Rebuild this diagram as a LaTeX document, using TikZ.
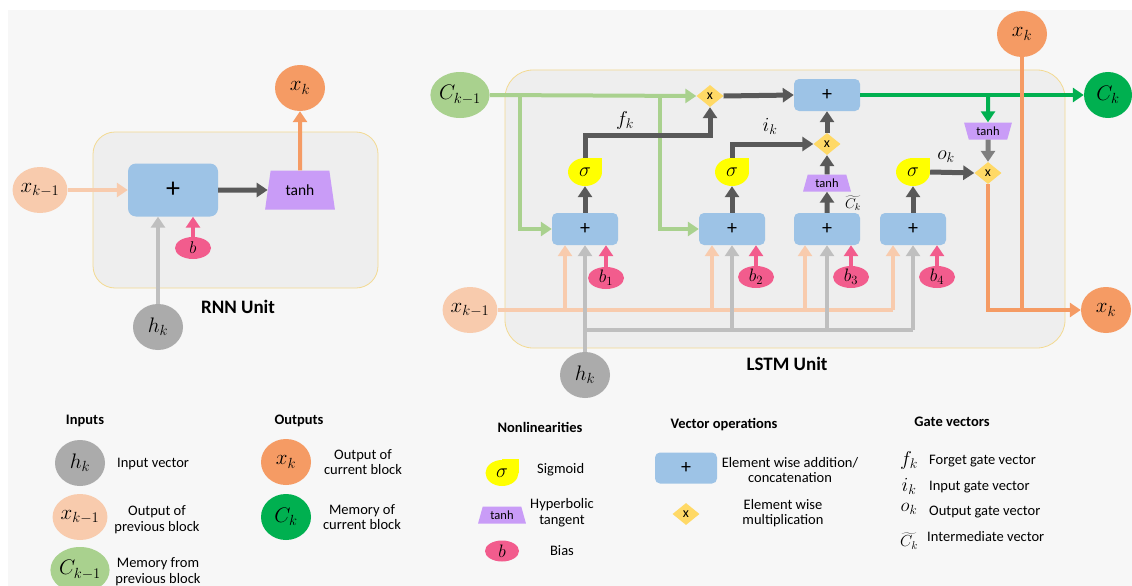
\RequirePackage{fix-cm}
\documentclass[tikz,border=0pt]{standalone}
\usepackage{fontspec}
\setmainfont{Carlito}
\usetikzlibrary{arrows.meta,shapes.geometric,calc}

\definecolor{pagebg}{HTML}{F7F7F7}
\definecolor{unitfill}{HTML}{EEEEEE}
\definecolor{unitedge}{HTML}{F3DA92}
\definecolor{boxblue}{HTML}{9DC3E6}
\definecolor{tanhpur}{HTML}{C99CF7}
\definecolor{sigyel}{HTML}{FFFF00}
\definecolor{multyel}{HTML}{FFD966}
\definecolor{biaspink}{HTML}{F25C8D}
\definecolor{peachc}{HTML}{F8CBAD}
\definecolor{grayln}{HTML}{BFBFBF}
\definecolor{graycirc}{HTML}{ABABAB}
\definecolor{orangec}{HTML}{F59B64}
\definecolor{greenlt}{HTML}{A9D18E}
\definecolor{greendk}{HTML}{00B050}
\definecolor{darkln}{HTML}{595959}
\definecolor{midln}{HTML}{7F7F7F}

\newcommand\sigmanode[3][sigbody]{%
  \fill[sigyel] (#3) rectangle ++(17,-14);
  \node[#1] (#2) at (#3) {$\sigma$};}

\begin{document}
\begin{tikzpicture}[x=1pt,y=-1pt,
  circ/.style={ellipse, minimum width=50pt, minimum height=46pt, inner sep=0pt,
    font=\fontsize{21}{22}\selectfont},
  addbox/.style={rectangle, rounded corners=5pt, fill=boxblue, minimum width=66pt,
    minimum height=32pt, inner sep=0pt, font=\fontsize{20}{20}\selectfont},
  mult/.style={diamond, fill=multyel, minimum width=27pt, minimum height=22pt,
    inner sep=0pt, font=\fontsize{14}{14}\selectfont},
  tanhbox/.style={trapezium, trapezium stretches=true, trapezium left angle=72,
    trapezium right angle=72, fill=tanhpur, minimum width=48pt, minimum height=17pt,
    inner sep=0pt, font=\fontsize{12.5}{12.5}\selectfont},
  biasnd/.style={ellipse, fill=biaspink, minimum width=36pt, minimum height=22pt,
    inner sep=0pt, font=\fontsize{18}{18}\selectfont},
  sigbody/.style={ellipse, fill=sigyel, minimum width=34pt, minimum height=28pt,
    inner sep=0pt, font=\fontsize{20}{20}\selectfont},
  unitbox/.style={rectangle, draw=unitedge, line width=0.8pt, fill=unitfill},
  conn/.style={line width=4pt},
  arr/.style={conn, -{Triangle[length=11pt,width=14pt]}},
  heavy/.style={line width=5pt},
  unitlbl/.style={font=\fontsize{19}{19}\selectfont\bfseries},
  head/.style={font=\fontsize{14.5}{15}\selectfont\bfseries},
  lgtext/.style={font=\fontsize{14.5}{15.7}\selectfont, align=center, inner sep=0pt},
  mlbl/.style={font=\fontsize{20}{20}\selectfont, inner sep=0pt}
]
\useasboundingbox (0,0) rectangle (1132,586);
\fill[white] (0,0) rectangle (1132,586);
\fill[pagebg] (8,10) rectangle (1132,586);

% ---------------- RNN unit ----------------
\node[unitbox, rounded corners=22pt, minimum width=285pt, minimum height=156pt]
  (rnnunit) at (235.5,210) {};
\node[unitlbl] (rnnlbl) at (238,307) {RNN Unit};

\node[circ, fill=peachc] (rxin) at (40,190) {$x_{k-1}$};
\node[addbox, rounded corners=8pt, minimum width=90pt, minimum height=53pt,
  font=\fontsize{28}{28}\selectfont] (rplus) at (173,190) {+};
\node[tanhbox, trapezium left angle=76, trapezium right angle=76,
  minimum width=70pt, minimum height=39pt, font=\fontsize{15.5}{15.5}\selectfont]
  (rtanh) at (300,190) {tanh};
\node[circ, fill=orangec] (rxk) at (300,88) {$x_k$};
\node[biasnd, font=\fontsize{17}{17}\selectfont] (rb) at (193,248) {$b$};
\node[circ, fill=graycirc] (rhk) at (158,327) {$h_k$};

\draw[arr, peachc] (rxin) -- (rplus);
\draw[arr, heavy, darkln] (rplus) -- (rtanh);
\draw[arr, orangec] (rtanh) -- (rxk);
\draw[arr, grayln] (rhk.north) -- (rhk.north |- rplus.south);
\draw[arr, biaspink] (rb.north) -- (rb.north |- rplus.south);

% ---------------- LSTM unit ----------------
\node[unitbox, rounded corners=28pt, minimum width=560pt, minimum height=278pt]
  (lstmunit) at (785,209) {};
\node[unitlbl] (lstmlbl) at (787,364) {LSTM Unit};

% inputs and outputs
\node[circ, fill=greenlt, minimum width=48pt] (cin) at (460,95) {$C_{k-1}$};
\node[circ, fill=peachc, minimum width=52pt] (xin) at (470,310) {$x_{k-1}$};
\node[circ, fill=graycirc] (hk) at (585,375) {$h_k$};
\node[circ, fill=orangec] (xktop) at (1022,34) {$x_k$};
\node[circ, fill=greendk, minimum width=48pt] (ck) at (1108,95) {$C_k$};
\node[circ, fill=orangec] (xkout) at (1106,310) {$x_k$};

% gate sums
\node[addbox] (p1) at (585,229) {+};
\node[addbox] (p2) at (732,229) {+};
\node[addbox] (p3) at (827,229) {+};
\node[addbox] (p4) at (913,229) {+};

% biases
\node[biasnd] (b1) at (606,278) {$b_1$};
\node[biasnd] (b2) at (756,277) {$b_2$};
\node[biasnd] (b3) at (851,277) {$b_3$};
\node[biasnd] (b4) at (937,277) {$b_4$};

% nonlinearities
\sigmanode{s1}{585,172}
\sigmanode{s2}{732,172}
\sigmanode{s4}{913,172}
\node[tanhbox] (tm) at (827,183) {tanh};
\node[tanhbox, shape border rotate=180] (to) at (988,131) {tanh};

% cell state operations
\node[mult] (m1) at (710,96) {x};
\node[addbox] (pc) at (827,95) {+};
\node[mult] (m2) at (827,144) {x};
\node[mult] (m3) at (988,173) {x};

% junctions
\coordinate (g1) at (520,95);
\coordinate (g2) at (660,95);
\coordinate (fcor) at (710,135);
\coordinate (cbr) at (988,95);
\coordinate (ojoin) at (1022,310);
\coordinate (pa1) at (565,310);
\coordinate (pa2) at (712,310);
\coordinate (pa3) at (805,310);
\coordinate (pa4) at (893,310);
\coordinate (gh0) at (585,330);
\coordinate (gh2) at (732,330);
\coordinate (gh3) at (827,330);
\coordinate (gh4) at (913,330);

% previous memory
\draw[arr, greenlt] (cin.east) -- (m1.west);
\draw[arr, greenlt] (g1) |- (p1.west);
\draw[arr, greenlt] (g2) |- (p2.west);

% previous output
\draw[conn, peachc] (xin.east |- pa1) -- (pa4);
\draw[arr, peachc] (pa1) -- (pa1 |- p1.south);
\draw[arr, peachc] (pa2) -- (pa2 |- p2.south);
\draw[arr, peachc] (pa3) -- (pa3 |- p3.south);
\draw[arr, peachc] (pa4) -- (pa4 |- p4.south);

% input vector
\draw[conn, grayln] (gh0) -- (gh4);
\draw[arr, grayln] (hk.north) -- (hk.north |- p1.south);
\draw[arr, grayln] (gh2) -- (gh2 |- p2.south);
\draw[arr, grayln] (gh3) -- (gh3 |- p3.south);
\draw[arr, grayln] (gh4) -- (gh4 |- p4.south);

% biases
\draw[arr, biaspink] (b1.north) -- (b1.north |- p1.south);
\draw[arr, biaspink] (b2.north) -- (b2.north |- p2.south);
\draw[arr, biaspink] (b3.north) -- (b3.north |- p3.south);
\draw[arr, biaspink] (b4.north) -- (b4.north |- p4.south);

% gates
\draw[arr, heavy, darkln] (p1.north) -- (s1.south);
\draw[arr, heavy, darkln] (s1.north) |- (fcor) -- (m1.south);
\draw[arr, heavy, darkln] (m1.east) -- (pc.west);
\draw[arr, heavy, darkln] (p2.north) -- (s2.south);
\draw[arr, heavy, darkln] (s2.north) |- (m2.west);
\draw[arr, heavy, darkln] (p3.north) -- (tm.south);
\draw[arr, heavy, darkln] (tm.north) -- (m2.south);
\draw[arr, heavy, darkln] (m2.north) -- (pc.south);
\draw[arr, heavy, darkln] (p4.north) -- (s4.south);
\draw[arr, heavy, darkln] (s4.east) -- (m3.west);

% new memory and output
\draw[arr, greendk] (pc.east) -- (ck.west);
\draw[arr, greendk] (cbr) -- (to.north);
\draw[arr, heavy, midln] (to.south) -- (m3.north);
\draw[arr, orangec] (m3.south) |- (xkout.west);
\draw[conn, orangec] (xktop.south) -- (ojoin);

% gate labels
\node[mlbl] (lf) at (625,120) {$f_k$};
\node[mlbl] (li) at (770,126) {$i_k$};
\node[mlbl] (lo) at (946,157) {$o_k$};
\node[mlbl, font=\fontsize{14}{14}\selectfont] (lc) at (853,203) {$\widetilde{C_k}$};

% ---------------- legend ----------------
\node[head] (hin) at (85,421) {Inputs};
\node[circ, fill=graycirc] (lhk) at (80,463) {$h_k$};
\node[lgtext, anchor=west] (thk) at (117,464) {Input vector};
\node[circ, fill=peachc] (lxin) at (80,517) {$x_{k-1}$};
\node[lgtext] (txin) at (157,520) {Output of\\previous block};
\node[circ, fill=greenlt] (lcin) at (80,570) {$C_{k-1}$};
\node[lgtext] (tcin) at (158,572) {Memory from\\previous block};

\node[head] (hout) at (299,421) {Outputs};
\node[circ, fill=orangec] (lxk) at (286,462) {$x_k$};
\node[lgtext] (txk) at (363,462) {Output of\\current block};
\node[circ, fill=greendk] (lck) at (286,517) {$C_k$};
\node[lgtext] (tck) at (362,517) {Memory of\\current block};

\node[head] (hnl) at (540,427) {Nonlinearities};
\sigmanode[sigbody, minimum width=33pt, minimum height=26pt]{lsig}{502,473}
\node[lgtext, anchor=west] (tsig) at (537,470) {Sigmoid};
\node[tanhbox, minimum width=48pt, minimum height=17pt] (ltanh) at (502,515) {tanh};
\node[lgtext] (ttanh) at (562,513) {Hyperbolic\\tangent};
\node[biasnd, minimum width=34pt, minimum height=21pt] (lb) at (502,551) {$b$};
\node[lgtext] (tb) at (562,551) {Bias};

\node[head] (hvo) at (724,425) {Vector operations};
\node[addbox, minimum width=62pt, minimum height=31pt] (lplus) at (686,468) {+};
\node[lgtext] (tplus) at (790,470) {Element wise addition/\\concatenation};
\node[mult] (lmult) at (686,514) {x};
\node[lgtext] (tmult) at (783,513) {Element wise\\multiplication};

\node[head] (hgv) at (952,422) {Gate vectors};
\node[mlbl] (gf) at (909,460) {$f_k$};
\node[lgtext, anchor=west] (tgf) at (929,461) {Forget gate vector};
\node[mlbl] (gi) at (909,486) {$i_k$};
\node[lgtext, anchor=west] (tgi) at (929,487) {Input gate vector};
\node[mlbl, font=\fontsize{19}{19}\selectfont] (go) at (909,509) {$o_k$};
\node[mlbl, font=\fontsize{16}{16}\selectfont] (gc) at (909,541) {$\widetilde{C_k}$};
\node[lgtext, anchor=west] (tgo) at (929,512) {Output gate vector};
\node[lgtext, anchor=west] (tgc) at (927,537) {Intermediate vector};
\end{tikzpicture}
\end{document}
